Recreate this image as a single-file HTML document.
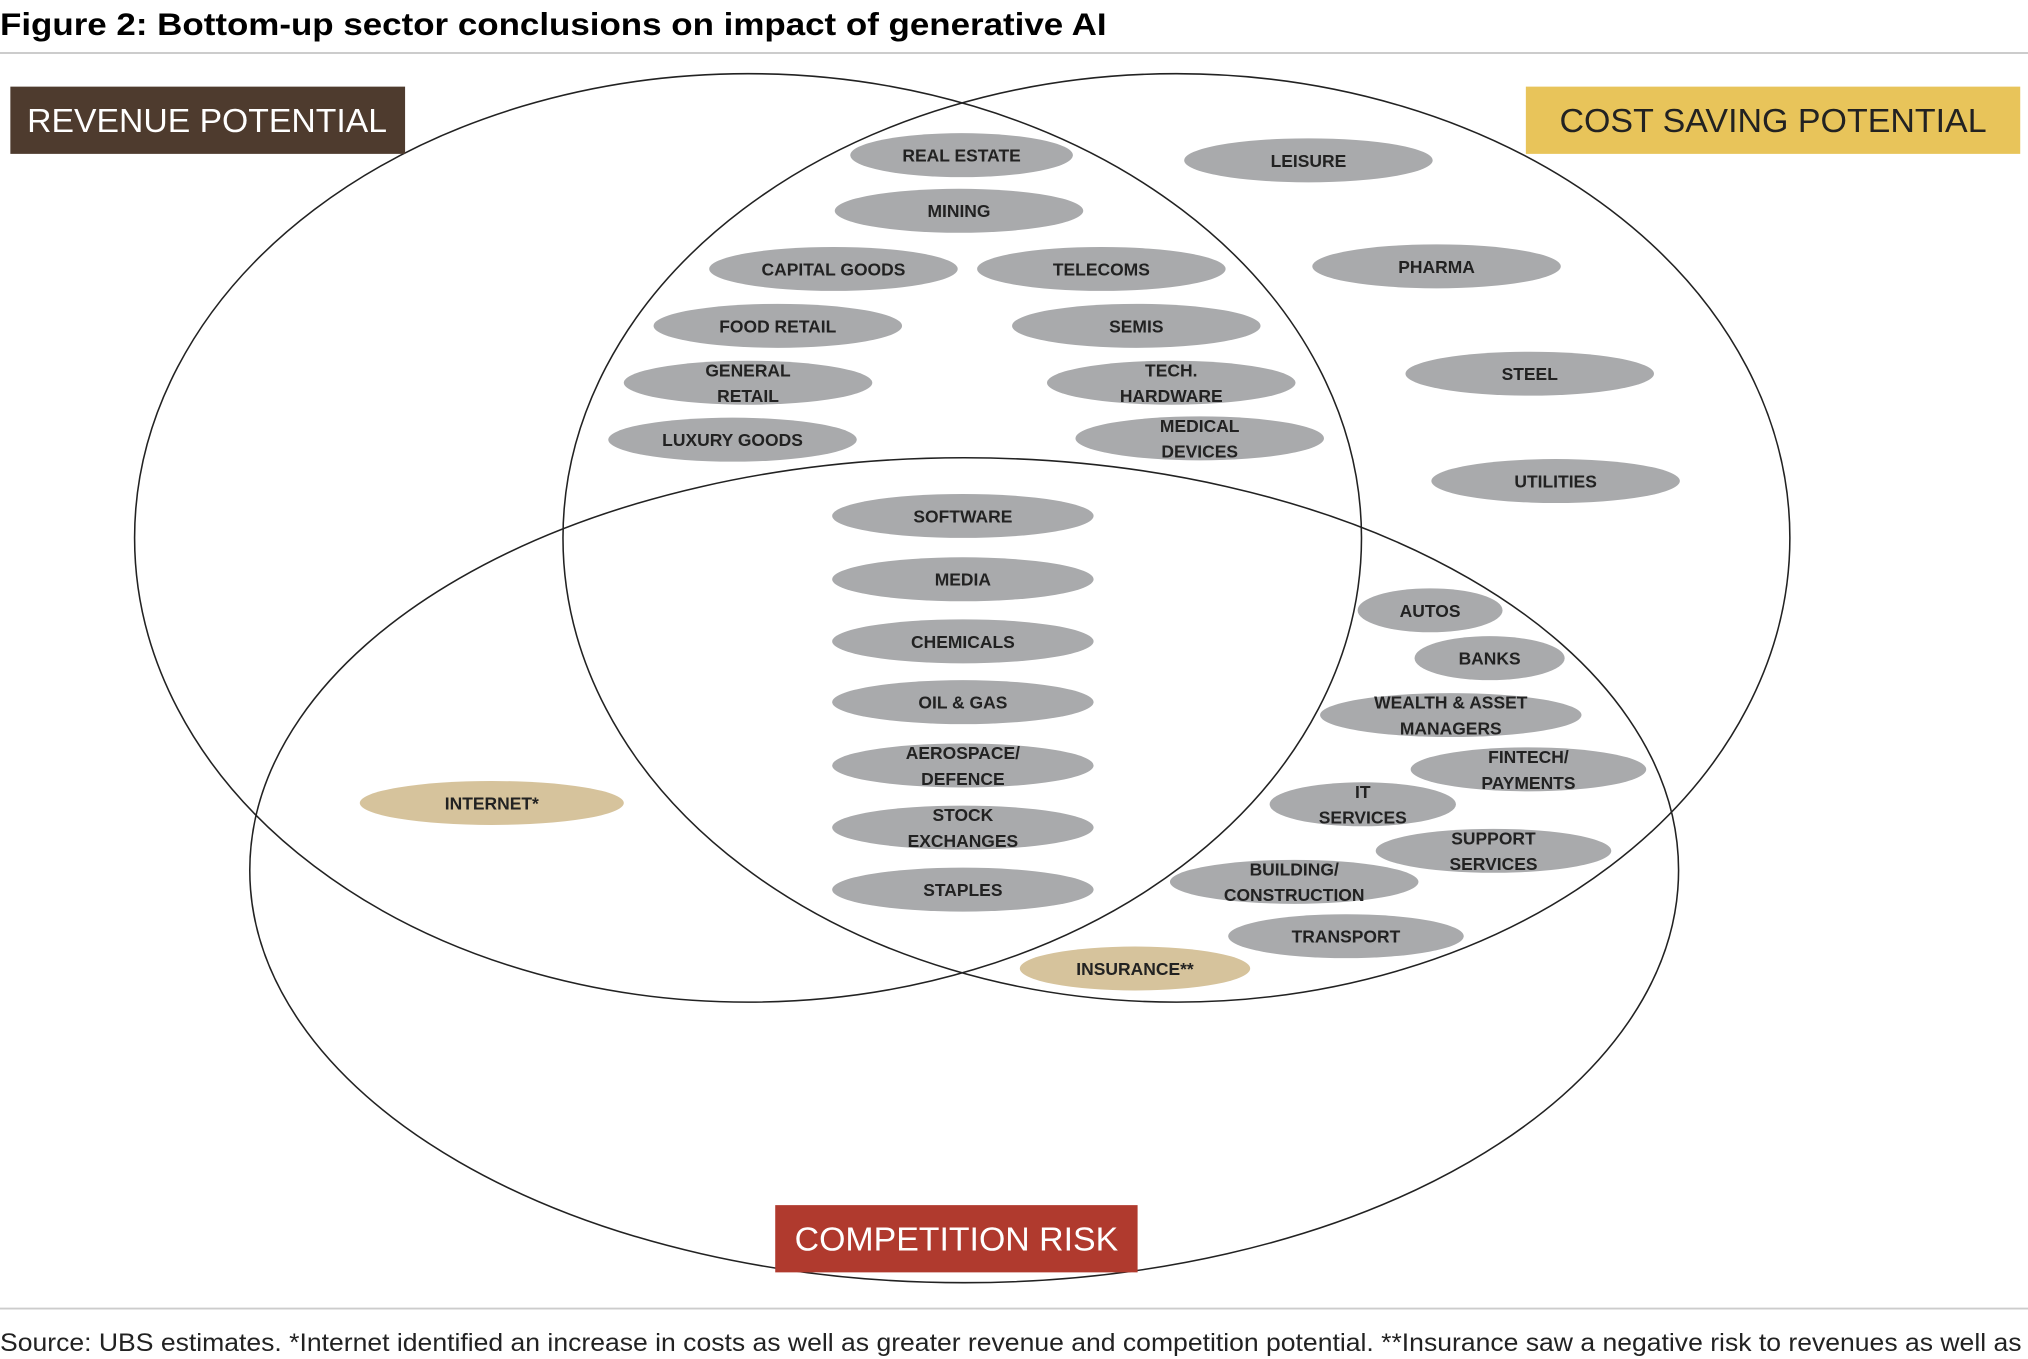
<!DOCTYPE html>
<html><head><meta charset="utf-8"><style>
html,body{margin:0;padding:0;background:#fff;}
svg{display:block;}
text{font-family:"Liberation Sans",sans-serif;}
.p{fill:#a9aaac;}
.tan{fill:#d6c39c;}
.l{font-size:13.5px;font-weight:bold;fill:#222;text-anchor:middle;}
</style></head><body>
<svg width="2028" height="1359" viewBox="0 0 1567 1051" preserveAspectRatio="none" xmlns="http://www.w3.org/2000/svg">
<text x="0" y="27" font-size="24" font-weight="bold" fill="#000" textLength="855" lengthAdjust="spacingAndGlyphs">Figure 2: Bottom-up sector conclusions on impact of generative AI</text>
<line x1="0" y1="41" x2="1567" y2="41" stroke="#ccc" stroke-width="1.5"/>
<ellipse cx="578" cy="416" rx="474" ry="359" fill="none" stroke="#222" stroke-width="1.2"/>
<ellipse cx="909" cy="416" rx="474" ry="359" fill="none" stroke="#222" stroke-width="1.2"/>
<ellipse cx="745" cy="673" rx="552" ry="319" fill="none" stroke="#222" stroke-width="1.2"/>
<rect x="8" y="67" width="305" height="52" fill="#4e3b2e"/>
<text x="160" y="102" font-size="26" fill="#fff" text-anchor="middle" textLength="278" lengthAdjust="spacingAndGlyphs">REVENUE POTENTIAL</text>
<rect x="1179" y="67" width="382" height="52" fill="#e8c45a"/>
<text x="1370" y="102" font-size="26" fill="#222" text-anchor="middle" textLength="330" lengthAdjust="spacingAndGlyphs">COST SAVING POTENTIAL</text>
<rect x="599" y="932" width="280" height="52" fill="#b03a2e"/>
<text x="739" y="967" font-size="26" fill="#fff" text-anchor="middle" textLength="250" lengthAdjust="spacingAndGlyphs">COMPETITION RISK</text>
<g>
<ellipse class="p" cx="743" cy="120" rx="86" ry="17"/><text class="l" x="743" y="125">REAL ESTATE</text>
<ellipse class="p" cx="741" cy="163" rx="96" ry="17"/><text class="l" x="741" y="168">MINING</text>
<ellipse class="p" cx="644" cy="208" rx="96" ry="17"/><text class="l" x="644" y="213">CAPITAL GOODS</text>
<ellipse class="p" cx="851" cy="208" rx="96" ry="17"/><text class="l" x="851" y="213">TELECOMS</text>
<ellipse class="p" cx="601" cy="252" rx="96" ry="17"/><text class="l" x="601" y="257">FOOD RETAIL</text>
<ellipse class="p" cx="878" cy="252" rx="96" ry="17"/><text class="l" x="878" y="257">SEMIS</text>
<ellipse class="p" cx="578" cy="296" rx="96" ry="17"/><text class="l" x="578" y="291">GENERAL</text><text class="l" x="578" y="311">RETAIL</text>
<ellipse class="p" cx="905" cy="296" rx="96" ry="17"/><text class="l" x="905" y="291">TECH.</text><text class="l" x="905" y="311">HARDWARE</text>
<ellipse class="p" cx="566" cy="340" rx="96" ry="17"/><text class="l" x="566" y="345">LUXURY GOODS</text>
<ellipse class="p" cx="927" cy="339" rx="96" ry="17"/><text class="l" x="927" y="334">MEDICAL</text><text class="l" x="927" y="354">DEVICES</text>
<ellipse class="p" cx="1011" cy="124" rx="96" ry="17"/><text class="l" x="1011" y="129">LEISURE</text>
<ellipse class="p" cx="1110" cy="206" rx="96" ry="17"/><text class="l" x="1110" y="211">PHARMA</text>
<ellipse class="p" cx="1182" cy="289" rx="96" ry="17"/><text class="l" x="1182" y="294">STEEL</text>
<ellipse class="p" cx="1202" cy="372" rx="96" ry="17"/><text class="l" x="1202" y="377">UTILITIES</text>
<ellipse class="p" cx="744" cy="399" rx="101" ry="17"/><text class="l" x="744" y="404">SOFTWARE</text>
<ellipse class="p" cx="744" cy="448" rx="101" ry="17"/><text class="l" x="744" y="453">MEDIA</text>
<ellipse class="p" cx="744" cy="496" rx="101" ry="17"/><text class="l" x="744" y="501">CHEMICALS</text>
<ellipse class="p" cx="744" cy="543" rx="101" ry="17"/><text class="l" x="744" y="548">OIL &amp; GAS</text>
<ellipse class="p" cx="744" cy="592" rx="101" ry="17"/><text class="l" x="744" y="587">AEROSPACE/</text><text class="l" x="744" y="607">DEFENCE</text>
<ellipse class="p" cx="744" cy="640" rx="101" ry="17"/><text class="l" x="744" y="635">STOCK</text><text class="l" x="744" y="655">EXCHANGES</text>
<ellipse class="p" cx="744" cy="688" rx="101" ry="17"/><text class="l" x="744" y="693">STAPLES</text>
<ellipse class="p" cx="1105" cy="472" rx="56" ry="17"/><text class="l" x="1105" y="477">AUTOS</text>
<ellipse class="p" cx="1151" cy="509" rx="58" ry="17"/><text class="l" x="1151" y="514">BANKS</text>
<ellipse class="p" cx="1121" cy="553" rx="101" ry="17"/><text class="l" x="1121" y="548">WEALTH &amp; ASSET</text><text class="l" x="1121" y="568">MANAGERS</text>
<ellipse class="p" cx="1181" cy="595" rx="91" ry="17"/><text class="l" x="1181" y="590">FINTECH/</text><text class="l" x="1181" y="610">PAYMENTS</text>
<ellipse class="p" cx="1053" cy="622" rx="72" ry="17"/><text class="l" x="1053" y="617">IT</text><text class="l" x="1053" y="637">SERVICES</text>
<ellipse class="p" cx="1154" cy="658" rx="91" ry="17"/><text class="l" x="1154" y="653">SUPPORT</text><text class="l" x="1154" y="673">SERVICES</text>
<ellipse class="p" cx="1000" cy="682" rx="96" ry="17"/><text class="l" x="1000" y="677">BUILDING/</text><text class="l" x="1000" y="697">CONSTRUCTION</text>
<ellipse class="p" cx="1040" cy="724" rx="91" ry="17"/><text class="l" x="1040" y="729">TRANSPORT</text>
<ellipse class="tan" cx="877" cy="749" rx="89" ry="17"/><text class="l" x="877" y="754">INSURANCE**</text>
<ellipse class="tan" cx="380" cy="621" rx="102" ry="17"/><text class="l" x="380" y="626">INTERNET*</text>
</g>
<line x1="0" y1="1012" x2="1567" y2="1012" stroke="#ccc" stroke-width="1.5"/>
<text x="0" y="1045" font-size="19" fill="#222" textLength="1562" lengthAdjust="spacingAndGlyphs">Source: UBS estimates. *Internet identified an increase in costs as well as greater revenue and competition potential. **Insurance saw a negative risk to revenues as well as</text>
</svg>
</body></html>
